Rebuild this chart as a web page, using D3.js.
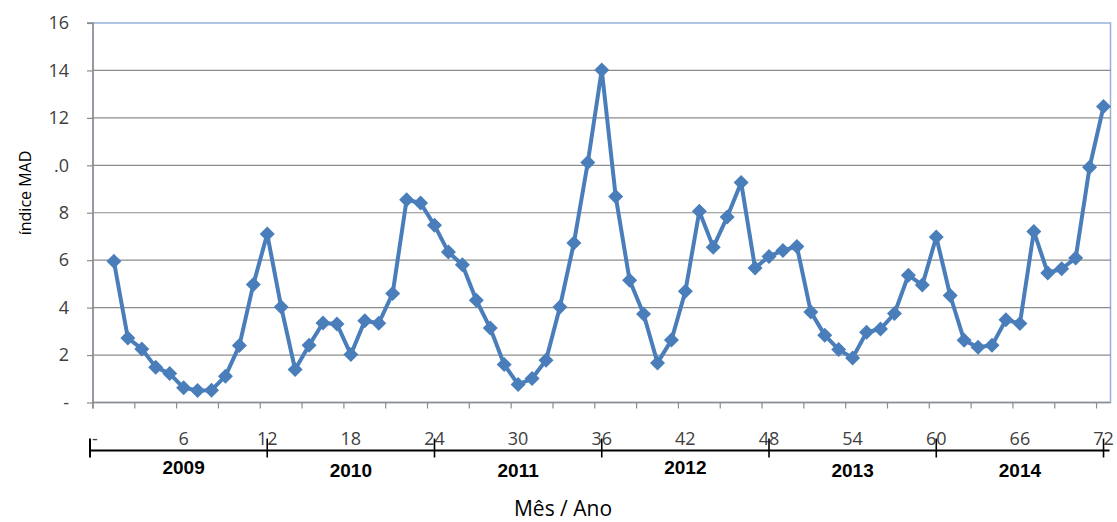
<!DOCTYPE html>
<html>
<head>
<meta charset="utf-8">
<script src="https://cdn.jsdelivr.net/npm/d3@7"></script>
<style>
  html, body { margin: 0; padding: 0; background: #fff; }
  svg { display: block; }
</style>
</head>
<body>
<svg id="chart" width="1117" height="522"></svg>
<script>
// Monthly MAD index, months 1..72 (2009-2014)
const months = d3.range(1, 73);
const madIndex = [
  5.95, 2.72, 2.26, 1.49, 1.22, 0.62, 0.51, 0.52, 1.11, 2.40, 4.97, 7.10,
  4.03, 1.39, 2.41, 3.35, 3.31, 2.02, 3.45, 3.34, 4.60, 8.55, 8.41, 7.47,
  6.34, 5.81, 4.31, 3.14, 1.60, 0.76, 1.01, 1.78, 4.03, 6.72, 10.12, 14.02,
  8.69, 5.15, 3.73, 1.67, 2.63, 4.69, 8.06, 6.55, 7.82, 9.28, 5.67, 6.16,
  6.41, 6.58, 3.82, 2.84, 2.23, 1.88, 2.96, 3.10, 3.75, 5.37, 4.95, 6.98,
  4.51, 2.62, 2.33, 2.41, 3.49, 3.33, 7.21, 5.46, 5.64, 6.09, 9.92, 12.48
];
const yTickValues = [0, 2, 4, 6, 8, 10, 12, 14, 16];
const yTickLabels = ["-", "2", "4", "6", "8", ".0", "12", "14", "16"];
const monthTickValues = [0, 6, 12, 18, 24, 30, 36, 42, 48, 54, 60, 66, 72];
const monthTickLabels = ["-", "6", "12", "18", "24", "30", "36", "42", "48", "54", "60", "66", "72"];
const years = ["2009", "2010", "2011", "2012", "2013", "2014"];

const svg = d3.select("#chart");
const plotLeft = 93, plotRight = 1110.5, plotTop = 23, plotBottom = 402.5;
const blue = "#4a7ebb";

// category axis: slot 0 is empty, months occupy slots 1..72
const x = d3.scaleBand().domain(d3.range(0, 73)).range([plotLeft, plotRight]).padding(0);
const bw = x.bandwidth();
const cx = i => x(i) + bw / 2;
const y = d3.scaleLinear().domain([0, 16]).range([plotBottom, plotTop]);

// plot area border
svg.append("rect")
  .attr("x", plotLeft).attr("y", plotTop)
  .attr("width", plotRight - plotLeft).attr("height", plotBottom - plotTop)
  .attr("fill", "none").attr("stroke", "#95b3d7").attr("stroke-width", 1.5);

// horizontal gridlines
svg.append("g").selectAll("line")
  .data(yTickValues.filter(v => v > 0 && v < 16))
  .join("line")
  .attr("x1", plotLeft).attr("x2", plotRight)
  .attr("y1", d => y(d)).attr("y2", d => y(d))
  .attr("stroke", "#8c8c8c").attr("stroke-width", 1.2);

// y axis
const yAxis = d3.axisLeft(y)
  .tickValues(yTickValues)
  .tickSize(6)
  .tickPadding(18)
  .tickFormat((d, i) => yTickLabels[i]);
const gy = svg.append("g").attr("transform", `translate(${plotLeft},0)`).call(yAxis);
gy.select(".domain").attr("stroke", "#8c8c8c").attr("stroke-width", 1.5)
  .attr("d", `M-6,${plotTop}H0V${plotBottom + 6}`);
gy.selectAll(".tick line").attr("stroke", "#8c8c8c").attr("stroke-width", 1.2);
gy.selectAll(".tick text")
  .attr("font-family", "'Open Sans', 'Noto Sans', sans-serif")
  .attr("font-size", 18).attr("fill", "#404040");

// x axis line with tick marks at every third category boundary
const gx = svg.append("g");
gx.append("line")
  .attr("x1", plotLeft).attr("x2", plotRight)
  .attr("y1", plotBottom).attr("y2", plotBottom)
  .attr("stroke", "#8c8c8c").attr("stroke-width", 1.5);
gx.selectAll("line.t")
  .data(d3.range(0, 73, 3))
  .join("line").attr("class", "t")
  .attr("x1", d => x(d)).attr("x2", d => x(d))
  .attr("y1", plotBottom).attr("y2", plotBottom + 6)
  .attr("stroke", "#8c8c8c").attr("stroke-width", 1.2);

// data line
const line = d3.line()
  .x((d, i) => cx(months[i]))
  .y(d => y(d));
svg.append("path")
  .datum(madIndex)
  .attr("fill", "none")
  .attr("stroke", blue)
  .attr("stroke-width", 4)
  .attr("stroke-linejoin", "round")
  .attr("d", line);

// diamond markers
const r = 7.5;
svg.append("g").selectAll("path")
  .data(madIndex)
  .join("path")
  .attr("transform", (d, i) => `translate(${cx(months[i])},${y(d)})`)
  .attr("d", `M0,${-r}L${r},0L0,${r}L${-r},0Z`)
  .attr("fill", blue);

// month labels and year bracket line underneath
const labelFont = "'Open Sans', 'Noto Sans', sans-serif";
svg.append("g").selectAll("text")
  .data(monthTickValues)
  .join("text")
  .attr("x", (d, i) => i === 0 ? cx(d) - 5 : cx(d))
  .attr("y", 445)
  .attr("text-anchor", "middle")
  .attr("font-family", labelFont)
  .attr("font-size", 18)
  .attr("fill", "#404040")
  .text((d, i) => monthTickLabels[i]);

const yearLineY = 450.5;
const gYear = svg.append("g");
gYear.append("line")
  .attr("x1", x(0) - 3).attr("x2", cx(72) + 6)
  .attr("y1", yearLineY).attr("y2", yearLineY)
  .attr("stroke", "#000").attr("stroke-width", 2);
gYear.append("line")
  .attr("x1", x(0) - 3).attr("x2", x(0) - 3)
  .attr("y1", yearLineY - 12).attr("y2", yearLineY + 7)
  .attr("stroke", "#000").attr("stroke-width", 2);
gYear.selectAll("line.b")
  .data(years.map((_, i) => 12 * (i + 1)))
  .join("line").attr("class", "b")
  .attr("x1", d => cx(d)).attr("x2", d => cx(d))
  .attr("y1", yearLineY - 12).attr("y2", yearLineY + 7)
  .attr("stroke", "#000").attr("stroke-width", 1.6);
gYear.selectAll("text")
  .data(years)
  .join("text")
  .attr("x", (d, i) => cx(12 * i + 6))
  .attr("y", (d, i) => i === 0 || i === 3 ? 474 : 477)
  .attr("text-anchor", "middle")
  .attr("font-family", "'Liberation Sans Narrow', 'Liberation Sans', Arial, sans-serif")
  .attr("font-weight", "bold")
  .attr("font-size", 19)
  .attr("fill", "#000")
  .text(d => d);

// axis titles
svg.append("text")
  .attr("transform", "translate(31,193) rotate(-90)")
  .attr("text-anchor", "middle")
  .attr("font-family", labelFont)
  .attr("font-size", 16)
  .attr("fill", "#000")
  .text("índice MAD");

svg.append("text")
  .attr("x", 563).attr("y", 516)
  .attr("text-anchor", "middle")
  .attr("font-family", labelFont)
  .attr("font-size", 21)
  .attr("fill", "#000")
  .text("Mês / Ano");
</script>
</body>
</html>
